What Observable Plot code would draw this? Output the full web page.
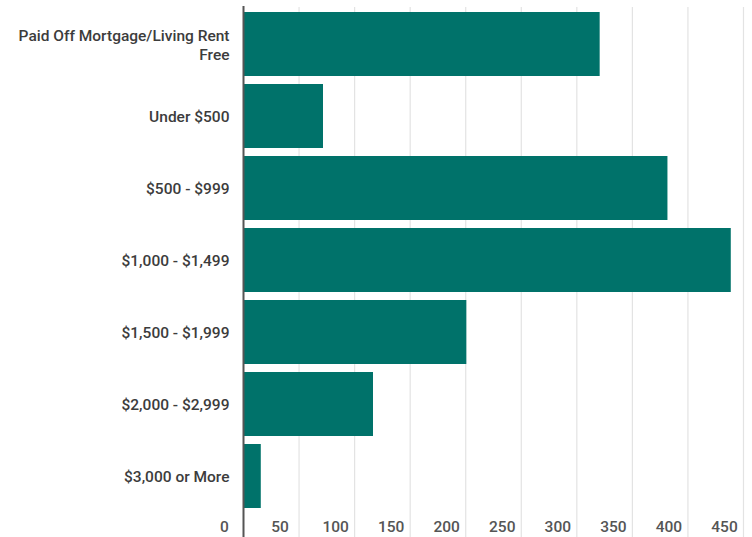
<!DOCTYPE html>
<html>
<head>
<meta charset="utf-8">
<script src="https://cdn.jsdelivr.net/npm/d3@7"></script>
<script src="https://cdn.jsdelivr.net/npm/@observablehq/plot@0.6"></script>
<style>
  html, body { margin: 0; padding: 0; background: #fff; }
  svg { display: block; }
</style>
</head>
<body>
<div id="chart"></div>
<script>
const categories = [
  "Paid Off Mortgage/Living Rent Free",
  "Under $500",
  "$500 - $999",
  "$1,000 - $1,499",
  "$1,500 - $1,999",
  "$2,000 - $2,999",
  "$3,000 or More"
];
const counts = [321, 72, 382, 439, 201, 117, 16];
const xTicks = [0, 50, 100, 150, 200, 250, 300, 350, 400, 450];
const labelLines = {
  "Paid Off Mortgage/Living Rent Free": "Paid Off Mortgage/Living Rent\nFree"
};

const data = categories.map((c, i) => ({category: c, count: counts[i]}));

const chart = Plot.plot({
  width: 752,
  height: 537,
  marginLeft: 243,
  marginRight: 9,
  marginTop: 8,
  marginBottom: 25,
  style: {fontFamily: "Roboto, sans-serif", background: "#fff"},
  x: {domain: [0, 450], ticks: xTicks, label: null},
  y: {domain: categories, paddingInner: 0.11, paddingOuter: 0.055, label: null},
  marks: [
    Plot.ruleX(xTicks.slice(1), {stroke: "#e3e3e3", strokeWidth: 1.2, insetTop: -1, insetBottom: -25}),
    Plot.barX(data, {x: "count", y: "category", fill: "#00726a"}),
    Plot.ruleX([0], {stroke: "#555", strokeWidth: 2, insetTop: -2, insetBottom: -25}),
    Plot.axisY({
      label: null,
      tickSize: 0,
      tickPadding: 14,
      fontSize: 15.5,
      fontWeight: 500,
      fill: "#3c3c3c",
      lineHeight: 1.2,
      tickFormat: d => labelLines[d] ?? d
    }),
    Plot.axisX(xTicks, {
      label: null,
      tickSize: 0,
      tickPadding: 8,
      dx: -19,
      fontSize: 15.5,
      fontWeight: 500,
      fill: "#555",
      tickFormat: d => String(d)
    })
  ]
});
document.getElementById("chart").appendChild(chart);
</script>
</body>
</html>
